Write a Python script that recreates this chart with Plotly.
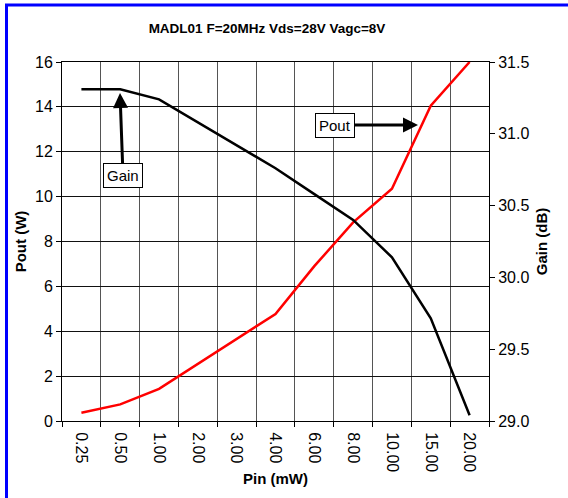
import plotly.graph_objects as go

pin_labels = ["0.25", "0.50", "1.00", "2.00", "3.00", "4.00", "6.00", "8.00", "10.00", "15.00", "20.00"]
pout_w = [0.37, 0.74, 1.43, 2.55, 3.65, 4.77, 6.9, 8.85, 10.35, 14.05, 16.0]
gain_db = [31.31, 31.31, 31.24, 31.08, 30.92, 30.76, 30.58, 30.40, 30.14, 29.715, 29.04]

W, H = 568, 498
ML, MR, MT, MB = 62, 79, 62, 77
PW, PH = W - ML - MR, H - MT - MB

def px(x):
    return (x - ML) / PW

def py(y):
    return (H - MB - y) / PH

FONT = "Liberation Sans, Arial, sans-serif"

fig = go.Figure()
fig.add_trace(go.Scatter(x=pin_labels, y=gain_db, mode="lines", yaxis="y2",
                         line=dict(color="black", width=2.5), name="Gain"))
fig.add_trace(go.Scatter(x=pin_labels, y=pout_w, mode="lines", yaxis="y",
                         line=dict(color="#ff0000", width=2.5), name="Pout"))

fig.update_layout(
    width=W, height=H,
    margin=dict(l=ML, r=MR, t=MT, b=MB),
    paper_bgcolor="white", plot_bgcolor="white",
    showlegend=False,
    font=dict(family=FONT, size=16, color="black"),
    title=dict(text="<b>MADL01 F=20MHz Vds=28V Vagc=8V</b>",
               font=dict(family=FONT, size=13.5, color="black"),
               x=(267) / W, xanchor="center", y=1 - 28 / H, yanchor="middle", xref="container", yref="container"),
    xaxis=dict(type="category", range=[-0.5, len(pin_labels) - 0.5], tickson="boundaries",
               ticks="outside", ticklen=5, ticklabelstandoff=7,
               tickcolor="black", tickangle=90, showline=True, linecolor="black", linewidth=1,
               mirror=True, showgrid=True, gridcolor="#555555", gridwidth=1,
               tickfont=dict(size=16),
               title=dict(text="<b>Pin (mW)</b>", font=dict(size=15), standoff=2)),
    yaxis=dict(range=[0, 16], dtick=2, ticks="outside", ticklen=5, tickcolor="black",
               showline=True, linecolor="black", linewidth=1, showgrid=True,
               gridcolor="#111111", gridwidth=1, zeroline=False, tickfont=dict(size=16),
               title=dict(text="<b>Pout (W)</b>", font=dict(size=15), standoff=4)),
    yaxis2=dict(range=[29.0, 31.5], dtick=0.5, tickformat=".1f", overlaying="y", side="right",
                ticks="outside", ticklen=5, tickcolor="black", showline=True, linecolor="black",
                linewidth=1, showgrid=False, zeroline=False, tickfont=dict(size=16),
                title=dict(text="<b>Gain (dB)</b>", font=dict(size=15), standoff=8)),
    shapes=[dict(type="rect", xref="paper", yref="paper",
                 x0=px(6.5), x1=px(W + 10), y0=py(H + 10), y1=py(5),
                 line=dict(color="#0000ff", width=3), fillcolor="rgba(0,0,0,0)", layer="above")],
    annotations=[
        dict(text="Gain", xref="paper", yref="paper", x=px(120), y=py(93), ax=3, ay=82,
             showarrow=True, arrowhead=2, arrowsize=1, arrowwidth=3, arrowcolor="black",
             bordercolor="black", borderwidth=1, borderpad=3, bgcolor="white",
             font=dict(size=15, color="black")),
        dict(text="Pout", xref="paper", yref="paper", x=px(418), y=py(125), ax=-83, ay=0,
             showarrow=True, arrowhead=2, arrowsize=1, arrowwidth=3, arrowcolor="black",
             bordercolor="black", borderwidth=1, borderpad=3, bgcolor="white",
             font=dict(size=15, color="black")),
    ],
)

fig.write_html("out.html", config={"displayModeBar": False},
               post_script="document.body.style.margin='0px';")
